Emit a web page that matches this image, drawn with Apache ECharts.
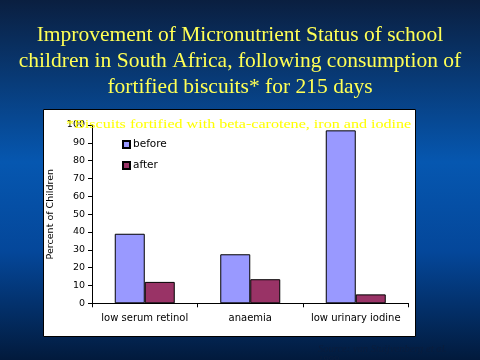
<!DOCTYPE html>
<html><head><meta charset="utf-8">
<script src="https://cdn.jsdelivr.net/npm/echarts@6/dist/echarts.min.js"></script>
<style>html,body{margin:0;padding:0;}#c{width:480px;height:360px;}</style>
</head><body><div id="c"></div>
<script>
var categories = ['low serum retinol', 'anaemia', 'low urinary iodine'];
var beforeValues = [39, 27.5, 97];
var afterValues = [12, 13.5, 5];
var yTicks = [0, 10, 20, 30, 40, 50, 60, 70, 80, 90, 100];
var titleText = 'Improvement of Micronutrient Status of school\nchildren in South Africa, following consumption of\nfortified biscuits* for 215 days';
var noteText = '*Biscuits fortified with beta-carotene, iron and iodine';
var sourceText = 'Source: van Stuijvenberg et al.\n1999';

var chart = echarts.init(document.getElementById('c'), null, {renderer: 'canvas'});
chart.setOption({
  animation: false,
  backgroundColor: {
    type: 'linear', x: 0, y: 0, x2: 0, y2: 1,
    colorStops: [
      {offset: 0, color: '#0a1f40'},
      {offset: 0.45, color: '#0657b0'},
      {offset: 0.7, color: '#04479a'},
      {offset: 1, color: '#021a3c'}
    ]
  },
  title: {
    text: titleText,
    left: 'center', top: 17,
    textStyle: {color: '#ffff55', fontFamily: 'Liberation Serif', fontSize: 21.5, fontWeight: 'normal', lineHeight: 26, align: 'center'}
  },
  graphic: [
    {type: 'rect', z: -10, shape: {x: 43.5, y: 109.5, width: 372, height: 227}, style: {fill: '#ffffff', stroke: '#000000', lineWidth: 1}},
    {type: 'text', z: 10, x: 66, y: 119, scaleX: 1.34, style: {text: noteText, fill: '#ffff00', font: '12px "Liberation Serif"'}},
    {type: 'text', z: 10, x: 318, y: 344, style: {text: sourceText, fill: '#0a1d3d', font: 'italic 10.5px "Liberation Serif"', lineHeight: 11}}
  ],
  legend: {
    orient: 'vertical', left: 117, top: 134,
    itemWidth: 7, itemHeight: 7, itemGap: 10,
    icon: 'rect',
    textStyle: {fontFamily: 'DejaVu Sans', fontSize: 10.5, color: '#000', padding: [0, 0, 0, -2]},
    data: ['before', 'after']
  },
  grid: {left: 92, right: 71.5, top: 125, bottom: 56.7, containLabel: false},
  xAxis: {
    type: 'category', data: categories,
    axisLine: {lineStyle: {color: '#000', width: 1}},
    axisTick: {show: true, interval: 0, length: 4, lineStyle: {color: '#000'}},
    axisLabel: {color: '#000', fontFamily: 'DejaVu Sans', fontSize: 10, margin: 10, interval: 0}
  },
  yAxis: {
    type: 'value', min: 0, max: 100, interval: 10,
    name: 'Percent of Children', nameLocation: 'middle', nameRotate: 90, nameGap: 30,
    nameTextStyle: {color: '#000', fontFamily: 'DejaVu Sans', fontSize: 9.5},
    axisLine: {show: true, lineStyle: {color: '#000', width: 1}},
    axisTick: {show: true, length: 4, lineStyle: {color: '#000'}},
    axisLabel: {color: '#000', fontFamily: 'DejaVu Sans', fontSize: 9.5, margin: 7,
      formatter: function (v) { return yTicks.indexOf(v) >= 0 ? String(v) : ''; }},
    splitLine: {show: false}
  },
  series: [
    {name: 'before', type: 'bar', data: beforeValues, barWidth: 30, barGap: '0%',
     itemStyle: {color: '#9999ff', borderColor: '#000', borderWidth: 1}},
    {name: 'after', type: 'bar', data: afterValues, barWidth: 30, barGap: '0%',
     itemStyle: {color: '#993366', borderColor: '#000', borderWidth: 1}}
  ]
});
</script>
</body></html>
